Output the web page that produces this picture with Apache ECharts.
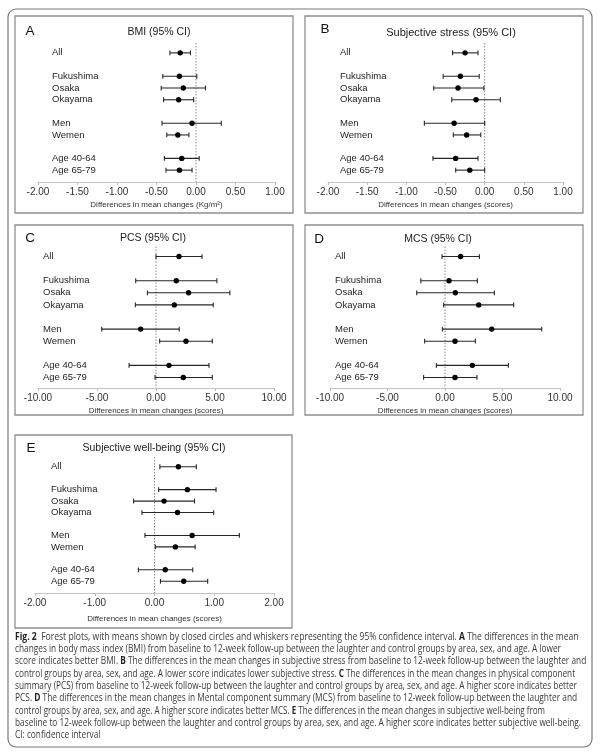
<!DOCTYPE html>
<html><head><meta charset="utf-8">
<script src="https://cdn.jsdelivr.net/npm/echarts@6/dist/echarts.min.js"></script>
<style>html,body{margin:0;padding:0;background:#fff}#c{width:600px;height:754px}</style>
</head><body><div id="c"></div><script>
// ---------- DATA ----------
const rowGroups = [['All'], ['Fukushima', 'Osaka', 'Okayama'], ['Men', 'Wemen'], ['Age 40-64', 'Age 65-79']];
const panelLetters = ['A', 'B', 'C', 'D', 'E'];
const panelTitles = ['BMI (95% CI)', 'Subjective stress (95% CI)', 'PCS (95% CI)', 'MCS (95% CI)', 'Subjective well-being (95% CI)'];
const axisNames = ['Differences in mean changes (Kg/m²)', 'Differences in mean changes (scores)',
  'Differences in mean changes (scores)', 'Differences in mean changes (scores)', 'Differences in mean changes (scores)'];

const bmiMean  = [-0.20, -0.21, -0.16, -0.22, -0.05, -0.23, -0.18, -0.21];
const bmiLower = [-0.33, -0.42, -0.44, -0.41, -0.43, -0.37, -0.40, -0.38];
const bmiUpper = [-0.07, 0.01, 0.12, -0.03, 0.32, -0.09, 0.04, -0.05];

const stressMean  = [-0.25, -0.31, -0.34, -0.11, -0.39, -0.23, -0.37, -0.19];
const stressLower = [-0.41, -0.53, -0.65, -0.42, -0.77, -0.40, -0.66, -0.37];
const stressUpper = [-0.085, -0.07, -0.01, 0.20, 0.00, -0.05, -0.085, 0.00];

const pcsMean  = [1.95, 1.72, 2.76, 1.55, -1.30, 2.54, 1.10, 2.31];
const pcsLower = [0.00, -1.72, -0.73, -1.75, -4.60, 0.31, -2.28, -0.08];
const pcsUpper = [3.90, 5.16, 6.26, 4.85, 1.97, 4.77, 4.49, 4.77];

const mcsMean  = [1.36, 0.35, 0.90, 2.93, 4.06, 0.87, 2.38, 0.87];
const mcsLower = [-0.26, -2.10, -2.46, -0.12, -0.23, -1.77, -0.75, -1.86];
const mcsUpper = [2.99, 2.81, 4.29, 5.97, 8.41, 2.64, 5.51, 2.78];

const swbMean  = [0.40, 0.55, 0.16, 0.385, 0.63, 0.35, 0.18, 0.49];
const swbLower = [0.09, 0.07, -0.35, -0.21, -0.16, 0.015, -0.27, 0.10];
const swbUpper = [0.70, 1.03, 0.67, 0.99, 1.42, 0.68, 0.64, 0.89];

const axisMin = [-2, -2, -10, -10, -2];
const axisMax = [1, 1, 10, 10, 2];
const axisStep = [0.5, 0.5, 5, 5, 1];

const captionLines = [
  '{b|Fig. 2}  Forest plots, with means shown by closed circles and whiskers representing the 95% confidence interval. {b|A} The differences in the mean',
  'changes in body mass index (BMI) from baseline to 12-week follow-up between the laughter and control groups by area, sex, and age. A lower',
  'score indicates better BMI. {b|B} The differences in the mean changes in subjective stress from baseline to 12-week follow-up between the laughter and',
  'control groups by area, sex, and age. A lower score indicates lower subjective stress. {b|C} The differences in the mean changes in physical component',
  'summary (PCS) from baseline to 12-week follow-up between the laughter and control groups by area, sex, and age. A higher score indicates better',
  'PCS. {b|D} The differences in the mean changes in Mental component summary (MCS) from baseline to 12-week follow-up between the laughter and',
  'control groups by area, sex, and age. A higher score indicates better MCS. {b|E} The differences in the mean changes in subjective well-being from',
  'baseline to 12-week follow-up between the laughter and control groups by area, sex, and age. A higher score indicates better subjective well-being.',
  'CI: confidence interval'
];

const panelData = [
  [bmiMean, bmiLower, bmiUpper],
  [stressMean, stressLower, stressUpper],
  [pcsMean, pcsLower, pcsUpper],
  [mcsMean, mcsLower, mcsUpper],
  [swbMean, swbLower, swbUpper]
];

// ---------- LAYOUT ----------
const FF = '"Liberation Sans", Arial, sans-serif';
const CAPF = '"Open Sans", "Noto Sans", sans-serif';
const grids = [
  {left: 38, width: 237, top: 47, height: 129, offset: 6, labelX: 52, nameGap: 19},
  {left: 328, width: 235, top: 47, height: 129, offset: 6, labelX: 340, nameGap: 19},
  {left: 38, width: 236, top: 250.5, height: 133, offset: 4.5, labelX: 43, nameGap: 19},
  {left: 330, width: 230, top: 250.5, height: 133, offset: 4.5, labelX: 335, nameGap: 19},
  {left: 35, width: 239, top: 461, height: 126, offset: 6, labelX: 51, nameGap: 21.5}
];
const boxes = [
  {x: 15, y: 16, w: 278, h: 197},
  {x: 305, y: 16, w: 278, h: 197},
  {x: 15, y: 225, w: 278, h: 190},
  {x: 305, y: 225, w: 278, h: 190},
  {x: 15, y: 435, w: 277, h: 193}
];
const titlePos = [[159, 32.5, 10.5], [451, 33, 11], [153, 238.5, 10.5], [438, 239, 10.5], [154, 448, 10.5]];
const letterPos = [[30, 31.5], [325, 29], [30, 238], [319, 239], [31, 448]];
// caption line widths (start x = 15); last line uses the mean compression
const captionWidths = [562, 546, 571, 560, 562, 562, 530, 566, null];

// caption horizontal fit per line
const capCtx = document.createElement('canvas').getContext('2d');
capCtx.font = '10px ' + CAPF;
const capScales = captionLines.map((t, i) => captionWidths[i] ?
  captionWidths[i] / capCtx.measureText(t.replace(/\{b\|([^}]*)\}/g, '$1')).width : null);
const known = capScales.filter(s => s);
const capMean = known.reduce((a, b) => a + b, 0) / known.length;

// categories with blank separators between groups
const categories = [];
const rowIndex = [];
rowGroups.forEach((g, gi) => {
  if (gi > 0) categories.push(' '.repeat(gi));
  g.forEach(l => { rowIndex.push(categories.length); categories.push(l); });
});

function makeRenderer(axisOffset) {
  return function (params, api) {
    const y = api.value(0);
    const lo = api.coord([api.value(1), y]);
    const hi = api.coord([api.value(2), y]);
    const m = api.coord([api.value(3), y]);
    const cap = 2.4;
    const ls = {stroke: '#262626', lineWidth: 1.1};
    const children = [];
    if (params.dataIndex === 0) {
      // dotted reference line at zero, from just above the plot down to the axis line
      const cs = params.coordSys;
      const zx = api.coord([0, y])[0];
      children.push({type: 'line', z2: -1,
        shape: {x1: zx, y1: cs.y - 4, x2: zx, y2: cs.y + cs.height + axisOffset},
        style: {stroke: '#8a8a8a', lineWidth: 1, lineDash: [1.5, 1.5]}});
    }
    children.push(
      {type: 'line', shape: {x1: lo[0], y1: lo[1], x2: hi[0], y2: hi[1]}, style: ls},
      {type: 'line', shape: {x1: lo[0], y1: lo[1] - cap, x2: lo[0], y2: lo[1] + cap}, style: ls},
      {type: 'line', shape: {x1: hi[0], y1: hi[1] - cap, x2: hi[0], y2: hi[1] + cap}, style: ls},
      {type: 'circle', shape: {cx: m[0], cy: m[1], r: 2.7}, style: {fill: '#000'}}
    );
    return {type: 'group', children};
  };
}

const option = {
  animation: false,
  backgroundColor: '#fff',
  grid: grids.map(g => ({left: g.left, width: g.width, top: g.top, height: g.height})),
  xAxis: grids.map((g, i) => ({
    gridIndex: i, type: 'value', min: axisMin[i], max: axisMax[i], interval: axisStep[i],
    offset: g.offset,
    axisLine: {show: true, lineStyle: {color: '#c4c4c4', width: 1}},
    axisTick: {show: true, length: 3, lineStyle: {color: '#bdbdbd'}},
    splitLine: {show: false},
    axisLabel: {formatter: v => v.toFixed(2), fontSize: 10, color: '#333', fontFamily: FF, margin: 5,
      showMinLabel: true, showMaxLabel: true},
    name: axisNames[i], nameLocation: 'middle', nameGap: g.nameGap,
    nameTextStyle: {fontSize: 8, color: '#333', fontFamily: FF}
  })),
  yAxis: grids.map((g, i) => ({
    gridIndex: i, type: 'category', data: categories, inverse: true,
    axisLine: {show: false}, axisTick: {show: false}, splitLine: {show: false},
    axisLabel: {interval: 0, align: 'left', margin: g.left - g.labelX, fontSize: 9.5, color: '#1e1e1e', fontFamily: FF}
  })),
  series: panelData.map((pd, i) => ({
    type: 'custom', xAxisIndex: i, yAxisIndex: i, clip: false,
    renderItem: makeRenderer(grids[i].offset),
    encode: {x: [1, 2, 3], y: 0},
    data: pd[0].map((m, k) => [rowIndex[k], pd[1][k], pd[2][k], m])
  })),
  graphic: [
    {type: 'rect', shape: {x: 8, y: 9, width: 584, height: 738, r: 8},
      style: {fill: 'none', stroke: '#7a7a7a', lineWidth: 1.2}, z: 1},
    ...boxes.map(b => ({type: 'rect', shape: {x: b.x, y: b.y, width: b.w, height: b.h},
      style: {fill: 'none', stroke: '#8f8f8f', lineWidth: 1.3}, z: 1})),
    ...panelTitles.map((t, i) => ({type: 'text', x: titlePos[i][0], y: titlePos[i][1],
      style: {text: t, fill: '#222', font: titlePos[i][2] + 'px ' + FF, textAlign: 'center', textVerticalAlign: 'middle'}})),
    ...panelLetters.map((t, i) => ({type: 'text', x: letterPos[i][0], y: letterPos[i][1],
      style: {text: t, fill: '#111', font: '13.5px ' + FF, textAlign: 'center', textVerticalAlign: 'middle'}})),
    ...captionLines.map((t, i) => ({type: 'text', x: 15, y: 637 + i * 12.3, scaleX: capScales[i] || capMean,
      style: {text: t, fill: '#3a3a3a', fontFamily: CAPF, fontSize: 10, textVerticalAlign: 'middle',
        rich: {b: {fontFamily: CAPF, fontSize: 10, fontWeight: 'bold', fill: '#222'}}}}))
  ]
};

const chart = echarts.init(document.getElementById('c'), null, {renderer: 'canvas'});
chart.setOption(option);
</script></body></html>
